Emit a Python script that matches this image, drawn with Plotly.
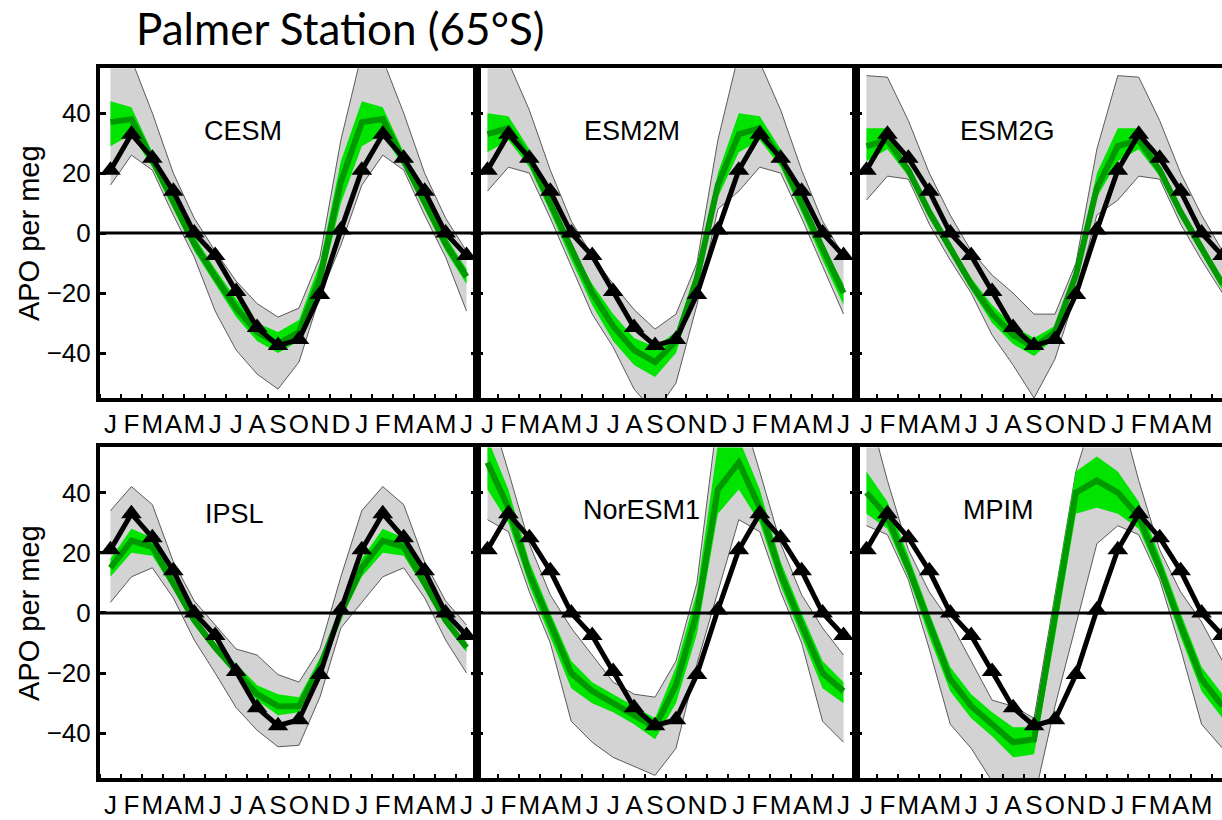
import plotly.graph_objects as go

# ---------------- data ----------------
month_labels = ["J", "F", "M", "A", "M", "J", "J", "A", "S", "O", "N", "D",
                "J", "F", "M", "A", "M", "J"]
month_pos = list(range(1, 19))
y_ticks = [-40, -20, 0, 20, 40]

# observed climatology (Jan..Dec)
obs = [21, 33, 25, 14, 0, -7.5, -19.5, -31.5, -37.5, -35.5, -20.5, 1]

model_names = ["CESM", "ESM2M", "ESM2G", "IPSL", "NorESM1", "MPIM"]

cesm_gray_hi = [60, 58, 40, 20, 5, -6, -16, -23.5, -28, -25, -8, 31]
cesm_gray_lo = [16, 26, 21, 6, -8, -26, -39, -47, -52, -43, -21, -4]
cesm_green_hi = [44, 42, 27, 13, -1, -12, -22, -30, -33, -29, -10, 24]
cesm_green_lo = [29, 33, 22, 8, -6, -17, -28, -36, -40, -36, -19, 10]
cesm_mean = [37, 38, 24.5, 10.5, -3.5, -14.5, -25, -33, -37, -33, -15, 17]

esm2m_gray_hi = [60, 57, 41, 21, 4, -7.5, -17, -25.5, -32, -27, -10, 31]
esm2m_gray_lo = [14, 22, 20, 5, -11, -27, -38, -52, -60, -50, -24, 8]
esm2m_green_hi = [40, 39, 28, 12, -4, -17, -27, -35, -38, -33, -12, 20]
esm2m_green_lo = [27, 31, 22, 7, -9, -24, -36, -44, -48, -40, -18, 12]
esm2m_mean = [33, 35, 25, 10, -6, -20, -31, -39, -43, -36, -15, 16]

esm2g_gray_hi = [52.5, 52, 37.5, 20, 6, -6, -14, -20, -27, -27, -10, 28]
esm2g_gray_lo = [11, 19, 18, 3, -9, -20, -34, -44, -55, -42, -20, 6]
esm2g_green_hi = [35, 35, 22, 8, -4, -15, -24, -31, -35, -31, -12, 20]
esm2g_green_lo = [24, 28, 19, 5, -7, -19, -30, -37, -41, -35, -16, 12]
esm2g_mean = [29, 31, 21, 7, -5, -17, -27, -34, -38, -33, -14, 15]

ipsl_gray_hi = [34, 42, 36, 17, 4, -4, -12, -14, -20.5, -23, -12, 12]
ipsl_gray_lo = [3.5, 12, 15, 5, -9, -20, -31.5, -39, -44.5, -44, -28, -5]
ipsl_green_hi = [18, 28, 25, 12, -1, -10, -17, -24, -27, -28, -15, 2]
ipsl_green_lo = [12, 20, 19, 8, -4, -13, -21, -29, -34, -33, -20, -2]
ipsl_mean = [15, 24, 22, 10, -2.5, -11.5, -19, -27, -31, -31, -18, 0]

noresm_gray_hi = [70, 47, 23, 6, -5, -14, -23, -27, -28, -16, 10, 66]
noresm_gray_lo = [31, 27, 7, -10, -36, -43, -48, -51, -54, -45, -17, 7]
noresm_green_hi = [58, 41, 17, 0, -16, -23, -27, -31, -35, -18, 7, 56]
noresm_green_lo = [41, 30, 9, -8, -25, -30, -33, -37, -42, -30, -7, 33]
noresm_mean = [50, 35, 13, -4, -20, -26, -30, -34, -38, -24, 0, 41]

mpim_gray_hi = [70, 44, 21, 7, -3, -16, -29, -31, -35, 6, 47, 70]
mpim_gray_lo = [29, 26, 11, -12, -37, -45, -56, -62, -62, -31, -4, 23]
mpim_green_hi = [47, 37, 19, 0, -18, -27, -33, -38, -38, 6, 47, 52]
mpim_green_lo = [33, 28, 12, -8, -26, -35, -41, -48, -47, -8, 33, 35]
mpim_mean = [40, 32, 15, -4, -22, -31, -37, -43, -42, -2, 40, 44]

gray_hi = [cesm_gray_hi, esm2m_gray_hi, esm2g_gray_hi, ipsl_gray_hi, noresm_gray_hi, mpim_gray_hi]
gray_lo = [cesm_gray_lo, esm2m_gray_lo, esm2g_gray_lo, ipsl_gray_lo, noresm_gray_lo, mpim_gray_lo]
green_hi = [cesm_green_hi, esm2m_green_hi, esm2g_green_hi, ipsl_green_hi, noresm_green_hi, mpim_green_hi]
green_lo = [cesm_green_lo, esm2m_green_lo, esm2g_green_lo, ipsl_green_lo, noresm_green_lo, mpim_green_lo]
means = [cesm_mean, esm2m_mean, esm2g_mean, ipsl_mean, noresm_mean, mpim_mean]


def two_cycles(a):
    """Jan..Dec followed by Jan..Jun of the same climatology (as plotted)."""
    return list(a) + list(a[:6])


# ---------------- layout geometry ----------------
W, H = 1222, 820
col_px = [(100, 477), (477, 856), (856, 1222)]
row_px = [(69, 403), (453, 788)]
px_per_month = (477 - 100) / 18.0

FONT = "Liberation Sans, Arial, Helvetica, sans-serif"
GRAY_FILL = "#d3d3d3"
GRAY_EDGE = "#5a5a5a"
LIGHT_GREEN = "#00e400"
DARK_GREEN = "#009a00"

fig = go.Figure()
layout = dict(
    width=W, height=H,
    margin=dict(l=0, r=0, t=0, b=0),
    paper_bgcolor="white", plot_bgcolor="white",
    showlegend=False,
    annotations=[], shapes=[],
)

label_pos = {
    "CESM": (0.378, 0.81), "ESM2M": (0.409, 0.81), "ESM2G": (0.415, 0.81),
    "IPSL": (0.357, 0.80), "NorESM1": (0.435, 0.812), "MPIM": (0.388, 0.812),
}

for k, name in enumerate(model_names):
    r, c = divmod(k, 3)
    idx = k + 1
    xa = "x" if idx == 1 else f"x{idx}"
    ya = "y" if idx == 1 else f"y{idx}"
    x0p, x1p = col_px[c]
    y0p, y1p = row_px[r]
    x_dom = [x0p / W, x1p / W]
    y_dom = [1 - y1p / H, 1 - y0p / H]
    x_end = 0.5 + (x1p - x0p) / px_per_month

    # gray envelope
    fig.add_trace(go.Scatter(x=month_pos, y=two_cycles(gray_lo[k]), xaxis=xa, yaxis=ya,
                             mode="lines", line=dict(color=GRAY_EDGE, width=1),
                             hoverinfo="skip"))
    fig.add_trace(go.Scatter(x=month_pos, y=two_cycles(gray_hi[k]), xaxis=xa, yaxis=ya,
                             mode="lines", line=dict(color=GRAY_EDGE, width=1),
                             fill="tonexty", fillcolor=GRAY_FILL, hoverinfo="skip"))
    # light green band
    fig.add_trace(go.Scatter(x=month_pos, y=two_cycles(green_lo[k]), xaxis=xa, yaxis=ya,
                             mode="lines", line=dict(color=LIGHT_GREEN, width=0),
                             hoverinfo="skip"))
    fig.add_trace(go.Scatter(x=month_pos, y=two_cycles(green_hi[k]), xaxis=xa, yaxis=ya,
                             mode="lines", line=dict(color=LIGHT_GREEN, width=0),
                             fill="tonexty", fillcolor=LIGHT_GREEN, hoverinfo="skip"))
    # model mean
    fig.add_trace(go.Scatter(x=month_pos, y=two_cycles(means[k]), xaxis=xa, yaxis=ya,
                             mode="lines", line=dict(color=DARK_GREEN, width=6),
                             hoverinfo="skip"))
    # observations
    fig.add_trace(go.Scatter(x=month_pos, y=two_cycles(obs), xaxis=xa, yaxis=ya,
                             mode="lines+markers",
                             line=dict(color="black", width=5),
                             marker=dict(symbol="triangle-up", size=18, color="black"),
                             hoverinfo="skip"))

    layout["xaxis" if idx == 1 else f"xaxis{idx}"] = dict(
        domain=x_dom, range=[0.5, x_end], anchor=ya,
        tickmode="array", tickvals=month_pos, ticktext=month_labels,
        tickangle=0,
        ticks="", showline=True, linewidth=4, linecolor="black", mirror=True,
        showgrid=False, zeroline=False,
        tickfont=dict(family=FONT, size=26, color="black"),
        minor=dict(tickmode="array", tickvals=[m + 0.5 for m in range(0, 19)],
                   ticks="inside", ticklen=4, tickwidth=2, tickcolor="black",
                   showgrid=False),
    )
    layout["yaxis" if idx == 1 else f"yaxis{idx}"] = dict(
        domain=y_dom, range=[-55, 55], anchor=xa,
        tickmode="array", tickvals=y_ticks,
        ticks="inside", ticklen=6, tickwidth=3, tickcolor="black",
        showline=True, linewidth=4, linecolor="black",
        mirror="allticks" if c < 2 else False,
        showgrid=False, zeroline=False,
        showticklabels=(c == 0),
        tickfont=dict(family=FONT, size=26, color="black"),
    )
    # zero reference line
    layout["shapes"].append(dict(
        type="line", xref=f"{xa} domain", x0=0, x1=1, yref=ya, y0=0, y1=0,
        line=dict(color="black", width=3), layer="above"))
    # model name
    lx, ly = label_pos[name]
    layout["annotations"].append(dict(
        text=name, xref=f"{xa} domain", yref=f"{ya} domain", x=lx, y=ly,
        xanchor="center", yanchor="middle", showarrow=False,
        font=dict(family=FONT, size=27, color="black")))

# y-axis titles
for (y0p, y1p) in row_px:
    layout["annotations"].append(dict(
        text="APO per meg", xref="paper", yref="paper",
        x=29 / W, y=1 - ((y0p + y1p) / 2) / H,
        xanchor="center", yanchor="middle", textangle=-90, showarrow=False,
        font=dict(family=FONT, size=29, color="black")))

# main title
layout["annotations"].append(dict(
    text="Palmer Station (65°S)", xref="paper", yref="paper",
    x=134 / W, y=1 - 28 / H, xanchor="left", yanchor="middle", showarrow=False,
    font=dict(family="Lato, Open Sans, sans-serif", size=44, color="black")))

fig.update_layout(**layout)
fig.write_html("out.html")
